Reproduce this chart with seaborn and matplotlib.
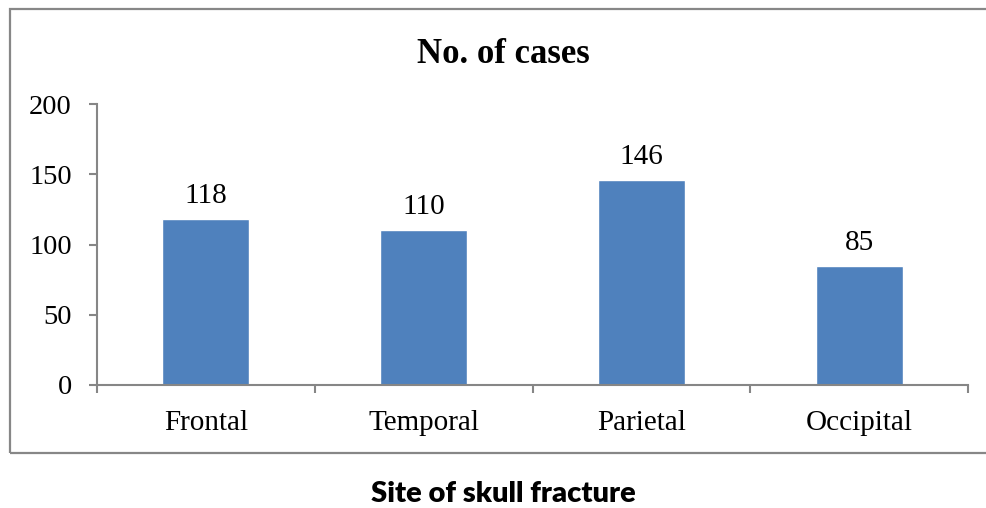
import matplotlib
matplotlib.use("Agg")
import matplotlib.pyplot as plt
import matplotlib.patches as mpatches
import seaborn as sns
import numpy as np

categories = ["Frontal", "Temporal", "Parietal", "Occipital"]
values = [118, 110, 146, 85]
yticks = [0, 50, 100, 150, 200]
title = "No. of cases"
xlabel = "Site of skull fracture"

sns.set_theme(style="white")
plt.rcParams["font.family"] = ["Liberation Serif", "DejaVu Serif"]
plt.rcParams["text.color"] = "black"
plt.rcParams["xtick.color"] = "black"
plt.rcParams["ytick.color"] = "black"

W, H = 986, 508
fig = plt.figure(figsize=(W / 100, H / 100), dpi=100)
fig.patch.set_facecolor("white")
ax = fig.add_axes([97 / W, 1 - 385 / H, (968 - 97) / W, (385 - 104) / H])

sns.barplot(x=categories, y=values, color="#4F81BD", saturation=1, width=0.4, ax=ax)

ax.set_xlim(-0.5, len(categories) - 0.5)
ax.set_ylim(0, 200)
ax.set_yticks(yticks)
ax.set_yticklabels([str(t) for t in yticks], fontsize=20.5, color="black")
ax.set_xticks(range(len(categories)))
ax.set_xticklabels(categories, fontsize=21, color="black")
ax.set_xticks(np.arange(-0.5, len(categories), 1.0), minor=True)

axis_col = "#868686"
for s in ["top", "right"]:
    ax.spines[s].set_visible(False)
for s in ["left", "bottom"]:
    ax.spines[s].set_color(axis_col)
    ax.spines[s].set_linewidth(1.5)
ax.tick_params(axis="y", which="major", direction="out", length=6, width=1.5, color=axis_col, pad=12, left=True, labelcolor="black")
ax.tick_params(axis="x", which="major", length=0, pad=18, labelcolor="black")
ax.tick_params(axis="x", which="minor", direction="out", length=6, width=1.5, color=axis_col, bottom=True)
ax.set_xlabel("")
ax.set_ylabel("")
ax.grid(False)

for p, v in zip(ax.patches, values):
    ax.annotate(str(v), (p.get_x() + p.get_width() / 2, p.get_height()),
                xytext=(0, 11.5), textcoords="offset points",
                ha="center", va="baseline", fontsize=21, color="black")

fig.text(503 / W, 1 - 63 / H, title, ha="center", va="baseline",
         fontsize=25, fontweight="bold", color="black", family=["Liberation Serif"])
fig.text(503 / W, 1 - 502 / H, xlabel, ha="center", va="baseline",
         fontsize=21, fontweight="heavy", color="black", family=["Lato", "DejaVu Sans"])

border = mpatches.Rectangle((10 / W, 1 - 453 / H), 1.2, (453 - 9) / H,
                            transform=fig.transFigure, fill=False,
                            edgecolor="#878787", linewidth=1.6, clip_on=False)
fig.patches.append(border)

fig.savefig("out.png", dpi=100, facecolor="white")
